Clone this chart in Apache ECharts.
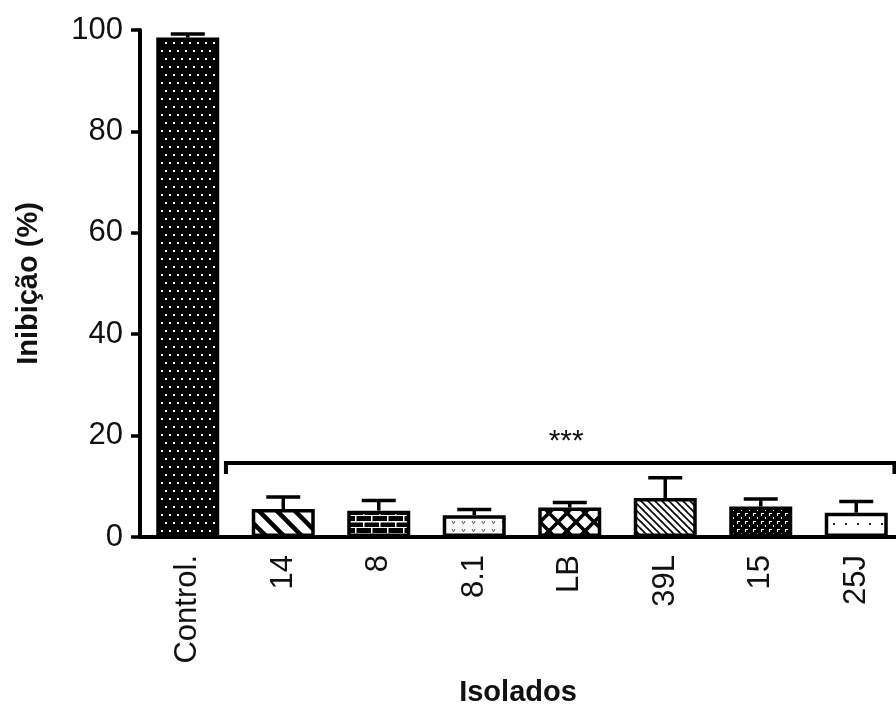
<!DOCTYPE html>
<html><head><meta charset="utf-8">
<script src="https://cdn.jsdelivr.net/npm/echarts@6/dist/echarts.min.js"></script>
<style>html,body{margin:0;padding:0;background:#fff}#c{width:896px;height:706px}</style>
</head><body><div id="c"></div>
<script>
const categories = ['Control.', '14', '8', '8.1', 'LB', '39L', '15', '25J'];
const inhibition = [98.5, 5.5, 5.2, 4.3, 5.8, 7.7, 6.0, 4.8];
const errorUp = [0.7, 2.4, 2.0, 1.1, 1.0, 4.0, 1.5, 2.2];
const yTicks = [0, 20, 40, 60, 80, 100];
const bracket = { from: 1, to: 7, level: 14.6, label: '***' };

function mk(w, h, draw) {
  const c = document.createElement('canvas');
  c.width = w; c.height = h;
  const g = c.getContext('2d');
  draw(g, w, h);
  return c;
}
const patterns = [
  mk(8, 16, (g) => { g.fillStyle = '#000'; g.fillRect(0,0,8,16); g.fillStyle = '#fff';
    g.fillRect(1,2,2,2); g.fillRect(5,10,2,2); }),
  mk(18, 18, (g) => { g.fillStyle = '#fff'; g.fillRect(0,0,18,18); g.strokeStyle = '#000'; g.lineWidth = 4.5;
    for (let k=-1;k<=1;k++){ g.beginPath(); g.moveTo(k*18-2,-2); g.lineTo(k*18+20,20); g.stroke(); } }),
  mk(16, 12, (g) => { g.fillStyle = '#000'; g.fillRect(0,0,16,12); g.fillStyle = '#fff';
    g.fillRect(0,5,16,1.5); g.fillRect(0,11,16,1.5); g.fillRect(3,0,1.5,5); g.fillRect(11,6,1.5,5); }),
  mk(10, 8, (g) => { g.fillStyle = '#fafafa'; g.fillRect(0,0,10,8); g.strokeStyle = '#666'; g.lineWidth = 1;
    g.beginPath(); g.moveTo(2,1); g.lineTo(3.5,4); g.lineTo(5,1); g.stroke(); }),
  mk(18, 18, (g) => { g.fillStyle = '#fff'; g.fillRect(0,0,18,18); g.strokeStyle = '#000'; g.lineWidth = 3.5;
    for (let k=-1;k<=1;k++){ g.beginPath(); g.moveTo(k*18-2,-2); g.lineTo(k*18+20,20); g.stroke();
      g.beginPath(); g.moveTo(k*18+20,-2); g.lineTo(k*18-2,20); g.stroke(); } }),
  mk(7, 7, (g) => { g.fillStyle = '#fff'; g.fillRect(0,0,7,7); g.strokeStyle = '#000'; g.lineWidth = 1.6;
    for (let k=-1;k<=1;k++){ g.beginPath(); g.moveTo(k*7-1,-1); g.lineTo(k*7+8,8); g.stroke(); } }),
  mk(8, 8, (g) => { g.fillStyle = '#000'; g.fillRect(0,0,8,8); g.fillStyle = '#fff';
    g.fillRect(1,1,3,1); g.fillRect(1,1,1,3); g.fillRect(5,5,1,2); }),
  mk(12, 14, (g) => { g.fillStyle = '#fff'; g.fillRect(0,0,12,14); g.fillStyle = '#222';
    g.fillRect(5,5,2,2); })
];

const barData = inhibition.map((v, i) => ({
  value: v,
  itemStyle: { color: { image: patterns[i], repeat: 'repeat' } }
}));
const errData = inhibition.map((v, i) => [i, v, errorUp[i]]);

const chart = echarts.init(document.getElementById('c'), null, { renderer: 'canvas' });
const font = 'Liberation Sans, Arial, sans-serif';
chart.setOption({
  animation: false,
  backgroundColor: '#fff',
  grid: { left: 140, top: 30, height: 507, width: 764, containLabel: false, outerBoundsMode: 'none' },
  xAxis: {
    type: 'category', data: categories,
    name: 'Isolados', nameLocation: 'middle', nameGap: 141,
    nameTextStyle: { fontFamily: font, fontSize: 29, fontWeight: 'bold', color: '#111', padding: [0, 0, 0, -8] },
    axisLine: { lineStyle: { color: '#000', width: 4 } },
    axisTick: { alignWithLabel: true, length: 11, lineStyle: { color: '#000', width: 4 } },
    axisLabel: { rotate: 90, fontFamily: font, fontSize: 31, color: '#111', margin: 18, interval: 0 }
  },
  yAxis: {
    type: 'value', min: 0, max: 100, interval: 20,
    name: 'Inibição (%)', nameLocation: 'middle', nameGap: 97,
    nameTextStyle: { fontFamily: font, fontSize: 29, fontWeight: 'bold', color: '#111' },
    axisLine: { show: true, lineStyle: { color: '#000', width: 4 } },
    axisTick: { show: true, length: 9, lineStyle: { color: '#000', width: 3.5 } },
    axisLabel: { fontFamily: font, fontSize: 31, color: '#111', margin: 17,
      formatter: (v) => yTicks.includes(v) ? String(v) : '' },
    splitLine: { show: false }
  },
  series: [
    {
      type: 'bar', data: barData, barWidth: 63,
      itemStyle: { borderColor: '#000', borderWidth: 3.5 },
      z: 2
    },
    {
      type: 'custom', data: errData, z: 3,
      encode: { x: 0, y: 1 },
      renderItem: (params, api) => {
        const i = api.value(0), v = api.value(1), e = api.value(2);
        const b = api.coord([i, v]);
        const t = api.coord([i, v + e]);
        return { type: 'group', children: [
          { type: 'line', shape: { x1: b[0], y1: b[1], x2: t[0], y2: t[1] }, style: { stroke: '#000', lineWidth: 3.5 } },
          { type: 'line', shape: { x1: t[0] - 17, y1: t[1], x2: t[0] + 17, y2: t[1] }, style: { stroke: '#000', lineWidth: 3.5 } }
        ]};
      }
    },
    {
      type: 'custom', data: [[bracket.from, bracket.to, bracket.level]], z: 3,
      encode: { x: 0, y: 2 },
      renderItem: (params, api) => {
        const a = api.coord([api.value(0), api.value(2)]);
        const c = api.coord([api.value(1), api.value(2)]);
        const band = api.size([1, 0])[0];
        const xl = a[0] - 0.6 * band, xr = c[0] + 0.4 * band, y = a[1];
        return { type: 'group', children: [
          { type: 'polyline', shape: { points: [[xl, y + 11], [xl, y], [xr, y], [xr, y + 11]] },
            style: { stroke: '#000', lineWidth: 4, fill: null } },
          { type: 'text', style: { text: bracket.label, x: (xl + xr) / 2 + 6, y: y - 6, align: 'center', verticalAlign: 'bottom',
            fontFamily: font, fontSize: 30, fill: '#111' } }
        ]};
      }
    }
  ]
});
</script></body></html>
